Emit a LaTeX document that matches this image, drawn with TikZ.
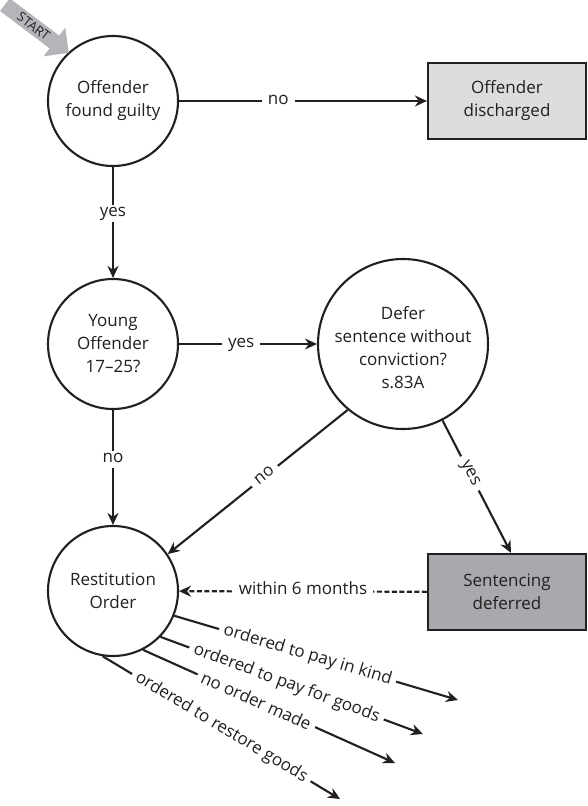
\documentclass[tikz,border=0pt]{standalone}
\usepackage{fontspec}
\setmainfont{Open Sans}
\usetikzlibrary{arrows.meta,shapes.arrows}
\definecolor{ink}{HTML}{231F20}
\definecolor{lightbox}{HTML}{DCDDDE}
\definecolor{darkbox}{HTML}{A7A9AC}
\definecolor{startgray}{HTML}{B3B5B8}
\begin{document}
\begin{tikzpicture}[x=1pt,y=-1pt,
  every node/.style={text=ink, font=\fontsize{17}{23}\selectfont},
  circ/.style={circle, draw=ink, line width=2.1pt, minimum size=130pt, align=center, inner sep=0pt},
  boxnode/.style={rectangle, draw=ink, line width=2.2pt, minimum width=158pt, minimum height=76pt, align=center},
  arr/.style={draw=ink, line width=2.1pt, -{Stealth[length=12pt,width=11pt]}},
  lbl/.style={fill=white, inner xsep=6pt, inner ysep=2pt, text height=10pt, text depth=3.5pt},
  olbl/.style={inner xsep=5pt, inner ysep=0pt},
  dashline/.style={dash pattern=on 5pt off 2.5pt}]
\useasboundingbox[fill=white] (0,0) rectangle (588,806);

% nodes
\node[circ] (guilty) at (113,101) {Offender\\found guilty};
\node[circ] (young) at (113,344) {Young\\Offender\\17--25?};
\node[circ, minimum size=170pt] (defer) at (403,344) {};
\node[align=center] (defertext) at (403,348) {Defer\\sentence without\\conviction?\\s.83A};
\node[circ] (rest) at (113,591) {Restitution\\Order};
\node[boxnode, fill=lightbox] (disc) at (507,101) {Offender\\discharged};
\node[boxnode, fill=darkbox] (sd) at (507,592) {Sentencing\\deferred};

\node[single arrow, fill=startgray, draw=none, rotate=-37, anchor=tip,
      minimum height=80pt, single arrow head extend=10pt, inner xsep=3pt, inner ysep=3pt,
      font=\fontsize{13}{15}\selectfont] (start) at (69,53) {START};

% connectors
\draw[arr] (guilty) -- node[lbl,pos=0.4]{no} (disc);
\draw[arr] (guilty) -- node[lbl,pos=0.42]{yes} (young);
\draw[arr] (young) -- node[lbl,pos=0.45]{yes} (defer);
\draw[arr] (young) -- node[lbl,pos=0.43]{no} (rest);
\draw[arr] (defer.230) -- node[lbl,sloped,pos=0.46]{no} (rest.34);
\draw[arr] (defer) -- node[lbl,sloped,pos=0.4]{yes} ([xshift=4pt]sd.north);
\draw[arr, dashline] (sd) -- node[lbl]{within 6 months} (rest);

% outcomes
\coordinate (endA) at (458,700);
\coordinate (endB) at (423,734);
\coordinate (endC) at (395,763);
\coordinate (endD) at (340,799);
\foreach \s/\e/\p/\t in {rest.-22/endA/0.47/ordered to pay in kind,
                         rest.-44/endB/0.48/ordered to pay for goods,
                         rest.-63/endC/0.45/no order made,
                         rest.-99/endD/0.5/ordered to restore goods}
  \draw[arr] (\s) -- (\e);
\foreach \s/\e/\p/\t in {rest.-22/endA/0.47/ordered to pay in kind,
                         rest.-44/endB/0.48/ordered to pay for goods,
                         rest.-63/endC/0.45/no order made,
                         rest.-99/endD/0.5/ordered to restore goods}
  \path (\s) -- node[olbl,sloped,pos=\p,fill=white]{\phantom{\t}} (\e);
\foreach \s/\e/\p/\t/\n in {rest.-22/endA/0.47/ordered to pay in kind/oA,
                         rest.-44/endB/0.48/ordered to pay for goods/oB,
                         rest.-63/endC/0.45/no order made/oC,
                         rest.-99/endD/0.5/ordered to restore goods/oD}
  \path (\s) -- node[olbl,sloped,pos=\p] (\n) {\t} (\e);
\end{tikzpicture}
\end{document}
